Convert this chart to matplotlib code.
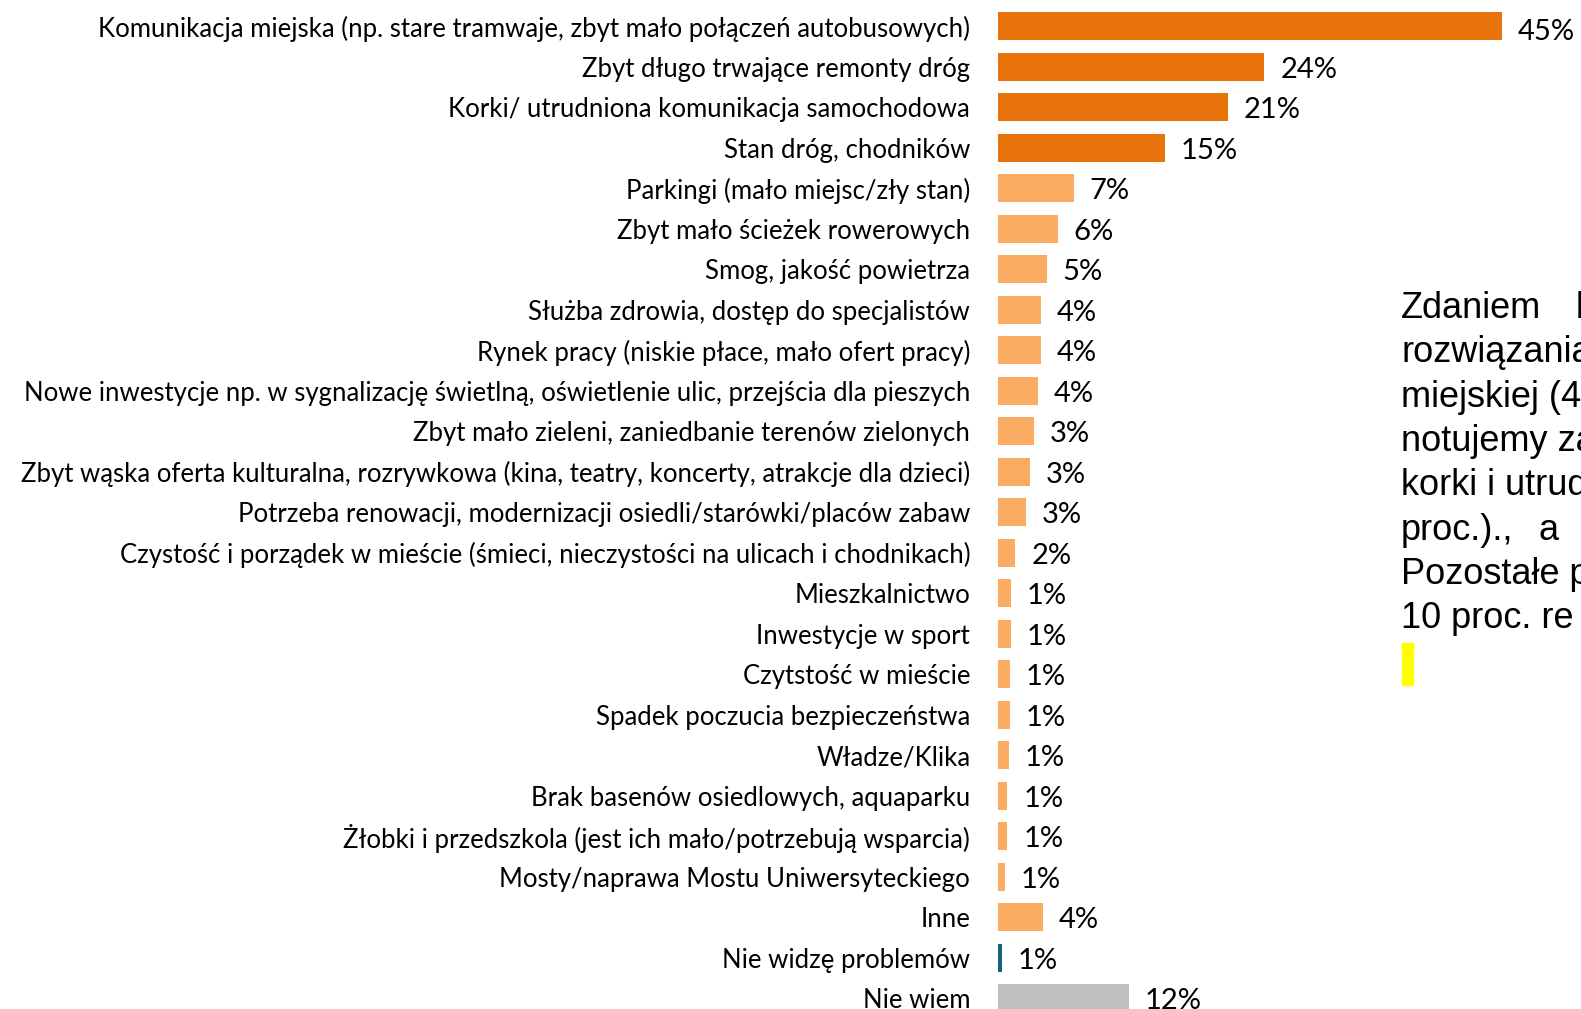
import matplotlib
matplotlib.use("Agg")
import matplotlib.pyplot as plt
from matplotlib.patches import Rectangle

# DATA
categories = [
    "Komunikacja miejska (np. stare tramwaje, zbyt mało połączeń autobusowych)",
    "Zbyt długo trwające remonty dróg",
    "Korki/ utrudniona komunikacja samochodowa",
    "Stan dróg, chodników",
    "Parkingi (mało miejsc/zły stan)",
    "Zbyt mało ścieżek rowerowych",
    "Smog, jakość powietrza",
    "Służba zdrowia, dostęp do specjalistów",
    "Rynek pracy (niskie płace, mało ofert pracy)",
    "Nowe inwestycje np. w sygnalizację świetlną, oświetlenie ulic, przejścia dla pieszych",
    "Zbyt mało zieleni, zaniedbanie terenów zielonych",
    "Zbyt wąska oferta kulturalna, rozrywkowa (kina, teatry, koncerty, atrakcje dla dzieci)",
    "Potrzeba renowacji, modernizacji osiedli/starówki/placów zabaw",
    "Czystość i porządek w mieście (śmieci, nieczystości na ulicach i chodnikach)",
    "Mieszkalnictwo",
    "Inwestycje w sport",
    "Czytstość w mieście",
    "Spadek poczucia bezpieczeństwa",
    "Władze/Klika",
    "Brak basenów osiedlowych, aquaparku",
    "Żłobki i przedszkola (jest ich mało/potrzebują wsparcia)",
    "Mosty/naprawa Mostu Uniwersyteckiego",
    "Inne",
    "Nie widzę problemów",
    "Nie wiem",
]
# bar lengths (percent)
values = [45.0, 23.8, 20.55, 14.9, 6.77, 5.33, 4.34, 3.86, 3.8, 3.55, 3.18, 2.87, 2.46,
          1.54, 1.13, 1.13, 1.07, 1.04, 0.98, 0.83, 0.83, 0.6, 4.02, 0.36, 11.7]
value_labels = ["45%", "24%", "21%", "15%", "7%", "6%", "5%", "4%", "4%", "4%",
                "3%", "3%", "3%", "2%", "1%", "1%", "1%", "1%", "1%", "1%",
                "1%", "1%", "4%", "1%", "12%"]
groups = ["top"] * 4 + ["other"] * 19 + ["none", "dontknow"]

# side note, cut off by the slide edge (justified text: pieces of each line)
note_pieces = [
    ["Zdaniem", "badanych"],
    ["rozwiązania"],
    ["miejskiej (45"],
    ["notujemy za"],
    ["korki i utrud"],
    ["proc.).,", "a"],
    ["Pozostałe problemy"],
    ["10 proc. re"],
]
# x start of each piece in pixels (wide justified gaps)
note_piece_x = [
    [1401, 1576],
    [1401],
    [1401],
    [1401],
    [1401],
    [1401, 1539],
    [1401],
    [1401],
]

colors = {"top": "#E8730A", "other": "#F9AC62", "none": "#1B6279", "dontknow": "#BFBFBF"}

W, H = 1581, 1009
fig = plt.figure(figsize=(W / 100, H / 100), dpi=100)
left_px = 998
ax = fig.add_axes([left_px / W, 0, 1 - left_px / W, 1])

px_per_unit = 11.19
y = list(range(len(categories)))
ax.barh(y, values, height=0.69, color=[colors[g] for g in groups])

for yi, v, lab in zip(y, values, value_labels):
    dy = -4 if yi == 0 else -2
    ax.annotate(lab, (v, yi), xytext=(11.5, dy), textcoords="offset points",
                va="center", ha="left", fontsize=21, family="Lato", color="#000000")

ax.set_xlim(0, (W - left_px) / px_per_unit)
pitch = 40.5
first = 26.3
ax.set_ylim((H - first) / pitch, -first / pitch)

ax.set_yticks(y)
ax.set_yticklabels(categories, fontsize=18.5, family="Lato", color="#000000")
ax.tick_params(axis="y", length=0, pad=20)
ax.set_xticks([])
for s in ax.spines.values():
    s.set_visible(False)

for i, (pieces, xs) in enumerate(zip(note_pieces, note_piece_x)):
    yb = 318 + 44.3 * i
    for w, xp in zip(pieces, xs):
        fig.text(xp / W, 1 - yb / H, w, fontsize=26, family="Liberation Sans",
                 va="baseline", ha="left", color="#000000")

fig.patches.append(Rectangle((1402 / W, 1 - 685 / H), 11 / W, 42 / H,
                             transform=fig.transFigure, color="#FFFF00"))

fig.savefig("out.png", dpi=100)
